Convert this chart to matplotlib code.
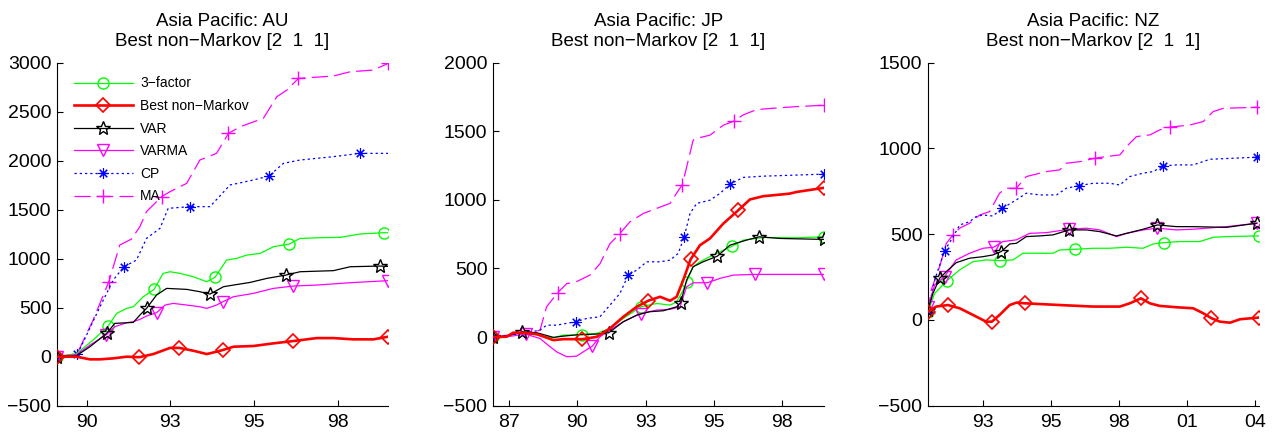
import matplotlib
matplotlib.use("Agg")
import matplotlib.pyplot as plt
from matplotlib.lines import Line2D

plt.rcParams['font.family'] = ['Liberation Sans', 'DejaVu Sans']

# ---------------- data ----------------
SERIES = ["3\u2212factor", "Best non\u2212Markov", "VAR", "VARMA", "CP", "MA"]
TITLES = ["Asia Pacific: AU", "Asia Pacific: JP", "Asia Pacific: NZ"]
SUBTITLE = "Best non\u2212Markov [2  1  1]"

# ---- AU ----
AU_X_3F = [1989.06, 1989.68, 1990.21, 1990.69, 1990.96, 1991.28, 1991.49, 1991.81, 1992.15, 1992.44, 1992.66,
           1992.98, 1993.40, 1993.83, 1994.09, 1994.46, 1994.78, 1995.10, 1995.53, 1995.95, 1996.46, 1996.80,
           1997.44, 1998.08, 1998.71, 1999.46, 1999.60]
AU_Y_3F = [0, 30, 170, 313, 442, 493, 510, 612, 687, 850, 867, 850, 816, 765, 810, 986, 1003, 1037, 1054, 1122,
           1150, 1207, 1214, 1218, 1252, 1265, 1265]
AU_M_3F = [0, 3, 8, 14, 20, 25]

AU_X_BNM = [1989.06, 1989.68, 1990.11, 1990.43, 1990.85, 1991.28, 1991.68, 1992.13, 1992.66, 1992.95, 1993.40,
            1993.83, 1994.14, 1994.34, 1994.68, 1995.31, 1995.95, 1996.59, 1997.33, 1997.86, 1998.50, 1999.14, 1999.60]
AU_Y_BNM = [0, 0, -27, -27, -17, 0, -5, 27, 90, 90, 61, 27, 51, 68, 102, 109, 136, 160, 190, 190, 177, 177, 204]
AU_M_BNM = [0, 6, 9, 13, 17, 22]

AU_X_VAR = [1989.06, 1989.68, 1990.11, 1990.64, 1990.90, 1991.49, 1991.70, 1991.91, 1992.23, 1992.55, 1993.19,
            1993.61, 1993.93, 1994.36, 1994.68, 1995.21, 1995.74, 1996.35, 1996.80, 1997.86, 1998.40, 1999.35, 1999.60]
AU_Y_VAR = [0, 10, 102, 238, 340, 350, 425, 493, 629, 697, 687, 663, 639, 714, 731, 758, 799, 833, 867, 878, 918,
            925, 922]
AU_M_VAR = [0, 3, 7, 12, 17, 21]

AU_X_VARMA = [1989.06, 1989.68, 1990.11, 1990.62, 1990.90, 1991.28, 1991.49, 1991.70, 1991.91, 1992.23, 1992.50,
              1992.76, 1993.19, 1993.61, 1993.83, 1994.14, 1994.34, 1994.68, 1995.31, 1995.95, 1996.59, 1997.33,
              1998.40, 1999.60]
AU_Y_VARMA = [0, 20, 119, 221, 306, 347, 357, 381, 415, 449, 527, 544, 527, 510, 493, 527, 561, 612, 646, 697, 721,
              731, 755, 776]
AU_M_VARMA = [0, 3, 9, 16, 20, 23]

AU_X_CP = [1989.06, 1989.71, 1990.43, 1990.85, 1991.19, 1991.59, 1991.91, 1992.34, 1992.60, 1993.29, 1993.93,
           1994.57, 1995.31, 1995.81, 1996.27, 1996.80, 1997.86, 1998.71, 1999.60]
AU_Y_CP = [0, 25, 510, 782, 918, 986, 1207, 1310, 1514, 1531, 1531, 1752, 1803, 1844, 1973, 2007, 2041, 2075, 2075]
AU_M_CP = [0, 1, 4, 9, 13, 17]

AU_X_MA = [1989.06, 1989.70, 1990.21, 1990.71, 1991.06, 1991.43, 1991.70, 1991.91, 1992.39, 1992.66, 1993.19,
           1993.61, 1994.14, 1994.52, 1994.89, 1995.63, 1996.06, 1996.38, 1996.75, 1997.86, 1998.40, 1999.14, 1999.60]
AU_Y_MA = [0, 30, 374, 765, 1140, 1200, 1327, 1480, 1633, 1684, 1769, 2007, 2075, 2279, 2347, 2432, 2653, 2721,
           2840, 2864, 2908, 2925, 2993]
AU_M_MA = [0, 3, 8, 13, 18, 22]

# ---- JP ----
JP_X_3F = [1986.79, 1987.31, 1987.56, 1987.95, 1988.45, 1989.09, 1989.47, 1990.16, 1990.74, 1991.24, 1991.75,
           1992.42, 1993.02, 1993.53, 1993.78, 1994.03, 1994.16, 1994.41, 1994.67, 1995.17, 1995.56, 1995.90,
           1996.32, 1996.82, 1997.08, 1998.35, 1999.39]
JP_Y_3F = [0, 3, 32, 27, 15, -5, 15, 15, 27, 63, 136, 221, 245, 233, 257, 342, 403, 513, 549, 598, 634, 663, 707,
           719, 726, 724, 731]
JP_M_3F = [0, 7, 11, 16, 21, 26]

JP_X_BNM = [1986.79, 1987.31, 1987.56, 1987.95, 1988.45, 1989.09, 1989.47, 1990.19, 1990.74, 1991.24, 1991.75,
            1992.26, 1992.70, 1993.15, 1993.53, 1993.78, 1994.03, 1994.31, 1994.67, 1995.05, 1995.56, 1996.13,
            1996.57, 1997.08, 1997.84, 1998.09, 1998.35, 1999.39]
JP_Y_BNM = [0, 3, 32, 32, 22, -22, -15, -15, 2, 63, 148, 221, 265, 294, 265, 294, 415, 566, 670, 719, 828, 925,
            1003, 1027, 1041, 1046, 1058, 1088]
JP_M_BNM = [0, 7, 12, 17, 21, 27]

JP_X_VAR = [1986.79, 1987.31, 1987.91, 1988.45, 1989.09, 1989.47, 1990.10, 1990.74, 1991.20, 1991.75, 1992.26,
            1992.76, 1993.27, 1993.78, 1993.93, 1994.16, 1994.41, 1994.79, 1995.33, 1995.81, 1996.44, 1996.92,
            1997.71, 1999.39]
JP_Y_VAR = [0, 7, 39, 32, -2, 7, 19, 22, 32, 112, 160, 185, 192, 221, 250, 415, 513, 549, 590, 670, 707, 731, 719,
            712]
JP_M_VAR = [0, 2, 8, 14, 18, 21, 23]

JP_X_VARMA = [1986.79, 1987.31, 1988.03, 1988.58, 1988.96, 1989.21, 1989.59, 1989.97, 1990.23, 1990.57, 1990.86,
              1991.24, 1991.75, 1992.41, 1993.02, 1993.53, 1993.91, 1994.16, 1994.41, 1994.95, 1995.43, 1995.94,
              1996.77, 1999.39]
JP_Y_VARMA = [0, 2, 22, -10, -70, -107, -143, -139, -107, -66, 2, 51, 112, 172, 197, 202, 221, 367, 396, 396, 428,
              452, 457, 457]
JP_M_VARMA = [0, 2, 9, 13, 19, 22, 23]

JP_X_CP = [1986.79, 1987.95, 1988.58, 1988.83, 1989.21, 1989.94, 1990.36, 1990.86, 1991.24, 1991.62, 1991.94,
           1992.26, 1992.64, 1993.15, 1993.53, 1993.84, 1994.06, 1994.29, 1994.54, 1995.05, 1995.43, 1995.81,
           1996.32, 1997.08, 1998.35, 1999.39]
JP_Y_CP = [0, 27, 51, 87, 87, 112, 136, 148, 233, 318, 452, 488, 549, 549, 561, 610, 726, 901, 974, 998, 1047,
           1115, 1164, 1173, 1181, 1188]
JP_M_CP = [0, 5, 10, 16, 21, 25]

JP_X_MA = [1986.79, 1987.95, 1988.20, 1988.58, 1988.83, 1989.25, 1989.59, 1989.97, 1990.48, 1990.86, 1991.24,
           1991.62, 1992.00, 1992.51, 1993.02, 1993.53, 1993.78, 1994.00, 1994.41, 1994.54, 1995.05, 1995.56,
           1995.96, 1996.32, 1996.82, 1997.58, 1998.35, 1999.39]
JP_Y_MA = [0, 30, 27, 51, 221, 323, 389, 404, 452, 534, 680, 755, 840, 901, 938, 975, 1049, 1112, 1436, 1448, 1472,
           1545, 1574, 1620, 1658, 1670, 1680, 1690]
JP_M_MA = [0, 5, 11, 17, 22, 27]

# ---- NZ ----
NZ_X_3F = [1990.78, 1991.05, 1991.54, 1992.06, 1992.60, 1993.13, 1993.70, 1994.21, 1994.62, 1995.16, 1995.83,
           1996.10, 1996.71, 1997.45, 1998.12, 1998.80, 1999.47, 1999.87, 2000.31, 2000.95, 2001.76, 2002.30,
           2002.84, 2004.15]
NZ_Y_3F = [49, 155, 229, 292, 340, 350, 346, 350, 389, 389, 389, 408, 412, 418, 418, 424, 418, 443, 451, 457, 457,
           482, 486, 490]
NZ_M_3F = [0, 2, 6, 12, 18, 23]

NZ_X_BNM = [1990.78, 1991.11, 1991.58, 1992.06, 1992.60, 1993.13, 1993.36, 1993.67, 1994.08, 1994.35, 1994.69,
            1996.10, 1997.45, 1998.53, 1998.93, 1999.38, 1999.74, 2000.14, 2000.82, 2001.49, 2001.90, 2002.23,
            2002.57, 2002.98, 2003.38, 2004.15]
NZ_Y_BNM = [49, 78, 87, 68, 29, -10, -10, 29, 87, 101, 97, 87, 78, 78, 97, 126, 97, 82, 74, 68, 39, 10, -10, -16,
            4, 14]
NZ_M_BNM = [0, 2, 6, 10, 15, 21, 25]

NZ_X_VAR = [1990.78, 1990.98, 1991.25, 1991.52, 1991.92, 1992.46, 1993.00, 1993.40, 1993.74, 1994.08, 1994.35,
            1994.75, 1995.29, 1995.83, 1996.48, 1997.18, 1997.72, 1998.39, 1998.80, 1999.47, 2000.05, 2000.82,
            2001.49, 2002.84, 2004.05]
NZ_Y_VAR = [58, 155, 243, 282, 334, 360, 369, 379, 399, 443, 447, 486, 490, 496, 525, 525, 515, 490, 505, 529, 554,
            544, 544, 540, 564]
NZ_M_VAR = [0, 2, 8, 14, 20, 24]

NZ_X_VARMA = [1990.78, 1991.05, 1991.45, 1991.92, 1992.46, 1993.00, 1993.43, 1993.81, 1994.35, 1994.89, 1995.56,
              1996.48, 1997.18, 1997.72, 1998.39, 1998.80, 1999.47, 2000.05, 2000.82, 2001.49, 2002.84, 2004.08]
NZ_Y_VARMA = [78, 204, 253, 350, 389, 418, 424, 457, 467, 505, 509, 529, 535, 525, 486, 505, 525, 535, 525, 529,
              544, 564]
NZ_M_VARMA = [0, 2, 6, 11, 17, 21]

NZ_X_CP = [1990.78, 1991.05, 1991.45, 1991.72, 1992.06, 1992.46, 1992.73, 1993.00, 1993.40, 1993.78, 1994.35,
           1994.75, 1995.29, 1995.97, 1996.37, 1996.88, 1997.45, 1998.12, 1998.53, 1998.93, 1999.47, 1999.87,
           2000.28, 2000.82, 2001.49, 2002.17, 2004.05]
NZ_Y_CP = [49, 233, 404, 467, 554, 573, 603, 612, 606, 651, 700, 739, 729, 729, 768, 783, 797, 797, 787, 836, 856,
           865, 898, 904, 904, 937, 949]
NZ_M_CP = [0, 2, 9, 15, 22, 26]

NZ_X_MA = [1990.78, 1990.91, 1991.25, 1991.52, 1991.79, 1992.06, 1992.46, 1992.87, 1993.27, 1993.67, 1993.94,
           1994.35, 1994.75, 1995.56, 1996.10, 1996.37, 1996.91, 1997.52, 1997.99, 1998.53, 1998.80, 1999.20,
           1999.74, 2000.14, 2000.55, 2001.36, 2001.90, 2002.30, 2002.71, 2004.08]
NZ_Y_MA = [39, 175, 311, 447, 496, 535, 564, 612, 632, 739, 768, 768, 836, 865, 875, 914, 923, 943, 953, 962, 1011,
           1069, 1079, 1108, 1124, 1137, 1157, 1215, 1234, 1240]
NZ_M_MA = [0, 4, 11, 17, 24, 29]

# axis settings
AU_XLIM = [1989.06, 1999.60]
JP_XLIM = [1986.79, 1999.39]
NZ_XLIM = [1990.78, 2004.15]
AU_XTICKS = [1990.0, 1992.67, 1995.33, 1998.0]
JP_XTICKS = [1987.4, 1990.0, 1992.6, 1995.2, 1997.8]
NZ_XTICKS = [1993.0, 1995.75, 1998.5, 2001.25, 2004.0]
AU_XTICKLABELS = ["90", "93", "95", "98"]
JP_XTICKLABELS = ["87", "90", "93", "95", "98"]
NZ_XTICKLABELS = ["93", "95", "98", "01", "04"]
AU_YLIM = [-500, 3000]
JP_YLIM = [-500, 2000]
NZ_YLIM = [-500, 1500]

# ---------------- styles ----------------
STYLES = [
    dict(color=(0, 1, 0), lw=0.9, ls='-', marker='o', ms=8, mew=1.0),
    dict(color=(1, 0, 0), lw=1.9, ls='-', marker='D', ms=7.5, mew=1.2),
    dict(color='black', lw=0.9, ls='-', marker='*', ms=10, mew=1.0),
    dict(color=(1, 0, 1), lw=0.9, ls='-', marker='v', ms=8.5, mew=1.0),
    dict(color=(0, 0, 1), lw=0.9, ls=(0, (1.8, 2.4)), marker=(8, 2, 0), ms=7.5, mew=0.8),
    dict(color=(1, 0, 1), lw=0.9, ls=(0, (13, 5)), marker='+', ms=10, mew=1.0),
]

panels = [
    dict(title=TITLES[0], xlim=AU_XLIM, ylim=AU_YLIM, xticks=AU_XTICKS, xtl=AU_XTICKLABELS,
         series=[(AU_X_3F, AU_Y_3F, AU_M_3F), (AU_X_BNM, AU_Y_BNM, AU_M_BNM), (AU_X_VAR, AU_Y_VAR, AU_M_VAR),
                 (AU_X_VARMA, AU_Y_VARMA, AU_M_VARMA), (AU_X_CP, AU_Y_CP, AU_M_CP), (AU_X_MA, AU_Y_MA, AU_M_MA)]),
    dict(title=TITLES[1], xlim=JP_XLIM, ylim=JP_YLIM, xticks=JP_XTICKS, xtl=JP_XTICKLABELS,
         series=[(JP_X_3F, JP_Y_3F, JP_M_3F), (JP_X_BNM, JP_Y_BNM, JP_M_BNM), (JP_X_VAR, JP_Y_VAR, JP_M_VAR),
                 (JP_X_VARMA, JP_Y_VARMA, JP_M_VARMA), (JP_X_CP, JP_Y_CP, JP_M_CP), (JP_X_MA, JP_Y_MA, JP_M_MA)]),
    dict(title=TITLES[2], xlim=NZ_XLIM, ylim=NZ_YLIM, xticks=NZ_XTICKS, xtl=NZ_XTICKLABELS,
         series=[(NZ_X_3F, NZ_Y_3F, NZ_M_3F), (NZ_X_BNM, NZ_Y_BNM, NZ_M_BNM), (NZ_X_VAR, NZ_Y_VAR, NZ_M_VAR),
                 (NZ_X_VARMA, NZ_Y_VARMA, NZ_M_VARMA), (NZ_X_CP, NZ_Y_CP, NZ_M_CP), (NZ_X_MA, NZ_Y_MA, NZ_M_MA)]),
]

W, H = 1275, 437
fig = plt.figure(figsize=(W / 100, H / 100), dpi=100)
lefts = [57, 493, 928]
ax_w = 331
ax_top, ax_bot = 62.7, 405.7

for i, p in enumerate(panels):
    ax = fig.add_axes([lefts[i] / W, 1 - ax_bot / H, ax_w / W, (ax_bot - ax_top) / H])
    order = [5, 4, 0, 3, 2, 1]
    for k in order:
        x, y, m = p['series'][k]
        st = STYLES[k]
        ax.plot(x, y, color=st['color'], lw=st['lw'], ls=st['ls'], marker=st['marker'],
                ms=st['ms'], markevery=m, mfc='none', mec=st['color'], mew=st['mew'],
                label=SERIES[k], zorder=2 + (1 if k == 1 else 0))
    ax.set_xlim(p['xlim'])
    ax.set_ylim(p['ylim'])
    ax.set_xticks(p['xticks'])
    ax.set_xticklabels(p['xtl'])
    ax.set_yticks(range(p['ylim'][0], p['ylim'][1] + 1, 500))
    ax.spines['top'].set_visible(False)
    ax.spines['right'].set_visible(False)
    for s in ('left', 'bottom'):
        ax.spines[s].set_linewidth(0.8)
    ax.tick_params(direction='in', length=4, width=0.8, labelsize=14, pad=6)
    ax.tick_params(axis='y', pad=4)
    ax.set_title(p['title'] + "\n" + SUBTITLE, fontsize=13.5, pad=12, linespacing=1.27)

    if i == 0:
        handles = [Line2D([], [], color=STYLES[k]['color'], lw=STYLES[k]['lw'], ls=STYLES[k]['ls'],
                          marker=STYLES[k]['marker'], ms=STYLES[k]['ms'], mfc='none',
                          mec=STYLES[k]['color'], mew=STYLES[k]['mew']) for k in range(6)]
        ax.legend(handles, SERIES, loc='upper left', bbox_to_anchor=(0.05, 0.96), frameon=False,
                  fontsize=10, handlelength=4.3, handletextpad=0.5, labelspacing=0.62,
                  borderpad=0, borderaxespad=0)

fig.savefig("out.png", dpi=100)
